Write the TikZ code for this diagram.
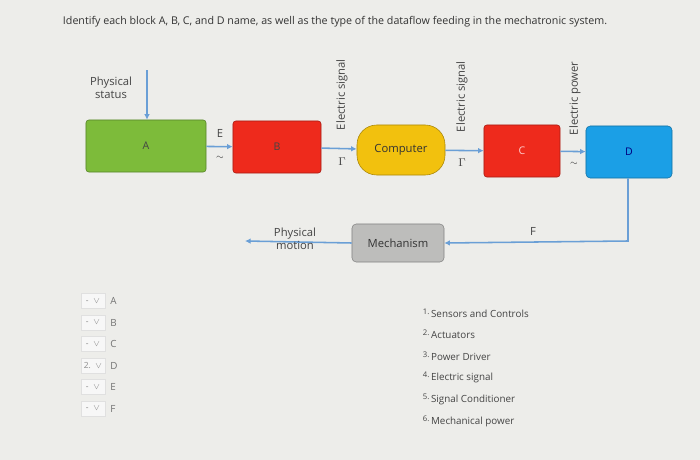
\documentclass[tikz,border=0pt]{standalone}
\usepackage{fontspec}
\setmainfont{Open Sans}
\usetikzlibrary{positioning,arrows.meta}
\definecolor{bg}{HTML}{EDEDEA}
\definecolor{flow}{HTML}{6A9FD6}
\definecolor{agreen}{HTML}{7DBB3A}
\definecolor{bred}{HTML}{EE2A1C}
\definecolor{cyel}{HTML}{F2C10E}
\definecolor{dblue}{HTML}{1B9FE6}
\definecolor{mgrey}{HTML}{BDBDBB}
\definecolor{txt}{HTML}{444444}
\begin{document}
\begin{tikzpicture}[x=0.025cm,y=-0.025cm,font=\fontsize{7.5}{9}\selectfont\color{txt},
                    flowline/.style={draw=flow, line width=1.1pt, -{Latex[length=4pt,width=4pt]}},
                    lbl/.style={font=\fontsize{8}{9}\selectfont\color{txt}, align=center},
                    pick/.style={draw=black!12, fill=black!3, minimum width=0.6cm, minimum height=0.38cm, inner sep=1pt, font=\fontsize{6}{7}\selectfont\color{black!45}}]
  \fill[bg] (0,0) rectangle (700,460);
  \node[anchor=west, font=\fontsize{7.6}{9}\selectfont\color{black!80}] (title) at (58,22)
    {Identify each block A, B, C, and D name, as well as the type of the dataflow feeding in the mechatronic system.};
  % blocks
  \node[draw=agreen!70!black, fill=agreen, rounded corners=2pt, minimum width=3cm, minimum height=1.3cm] (A) at (146,146) {A};
  \node[draw=bred!70!black, fill=bred, rounded corners=2pt, minimum width=2.2cm, minimum height=1.3cm] (B) at (277,147) {B};
  \node[draw=cyel!70!black, fill=cyel, rounded corners=14pt, minimum width=2.2cm, minimum height=1.25cm, font=\fontsize{8}{9}\selectfont\color{black!80}] (comp) at (401,150) {Computer};
  \node[draw=bred!70!black, fill=bred, rounded corners=2pt, minimum width=1.9cm, minimum height=1.3cm, text=white!80!red] (C) at (522,151) {C};
  \node[draw=dblue!70!black, fill=dblue, rounded corners=3pt, minimum width=2.15cm, minimum height=1.3cm, text=blue!50!black] (D) at (629,152) {D};
  \node[draw=mgrey!70!black, fill=mgrey, rounded corners=3pt, minimum width=2.3cm, minimum height=0.95cm, font=\fontsize{8}{9}\selectfont\color{black!80}] (mech) at (398,243) {Mechanism};
  % flows
  \coordinate (status) at (147,70);
  \draw[flowline] (status) -- (A.north -| status);
  \node[lbl, anchor=east] (statustxt) at (137,88) {Physical\\status};
  \draw[flowline] (A) -- (B);
  \draw[flowline] (B) -- (comp);
  \draw[flowline] (comp) -- (C);
  \draw[flowline] (C) -- (D);
  \coordinate (dcorner) at (628,241);
  \draw[flowline] (D.south -| dcorner) -- (dcorner) -- (mech.east);
  \coordinate (motion) at (245,241);
  \draw[flowline] (mech.west) -- (motion);
  \node[lbl] (motiontxt) at (295,239) {Physical\\motion};
  \node[lbl] (F) at (533,231) {F};
  \node[lbl] (E) at (220,133) {E};
  \node[lbl] (Et) at (220,158) {\fontsize{6}{7}\selectfont$\sim$};
  \node[lbl, rotate=90, anchor=west] (sig1) at (342,135) {Electric signal};
  \node[lbl] (g1) at (342,162) {$\Gamma$};
  \node[lbl, rotate=90, anchor=west] (sig2) at (462,137) {Electric signal};
  \node[lbl] (g2) at (462,163) {$\Gamma$};
  \node[lbl, rotate=90, anchor=west] (pow) at (575,140) {Electric power};
  \node[lbl] (pt) at (574,164) {\fontsize{6}{7}\selectfont$\sim$};
  % answer pickers
  \foreach \n/\l/\v [count=\i from 0] in {a/A/-,b/B/-,c/C/-,d/D/2.,e/E/-,f/F/-} {
    \node[pick] (pick\n) at (93,{301+21.5*\i}) {\v\ \ $\vee$};
    \node[lbl, anchor=west, font=\fontsize{7}{8}\selectfont\color{black!55}] (pl\n) at (pick\n.east) {\l};
  }
  % options
  \foreach \t [count=\i] in {Sensors and Controls,Actuators,Power Driver,Electric signal,Signal Conditioner,Mechanical power} {
    \node[anchor=west, font=\fontsize{7}{8}\selectfont\color{txt}] (opt\i) at (418,{313+21.6*(\i-1)}) {\raisebox{2pt}{\fontsize{5.5}{6}\selectfont\i.}\,\t};
  }
\end{tikzpicture}
\end{document}
